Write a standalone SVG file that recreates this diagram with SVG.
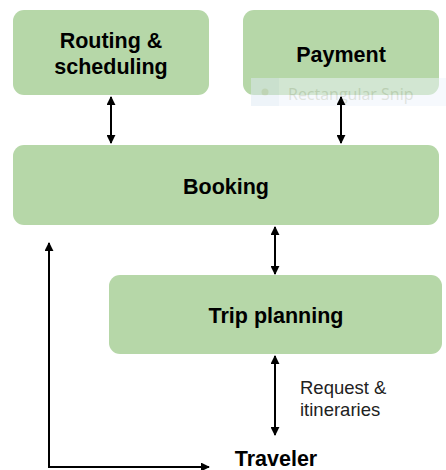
<svg xmlns="http://www.w3.org/2000/svg" width="446" height="470" viewBox="0 0 446 470">
<defs>
<marker id="ah" viewBox="0 0 10 10" refX="9" refY="5" markerWidth="4.5" markerHeight="4.5" orient="auto-start-reverse" markerUnits="strokeWidth">
<path d="M0,0 L10,5 L0,10 Z" fill="#000"/>
</marker>
<style>
.box{fill:#b6d7a8;}
.lbl{font-family:"Liberation Sans",Arial,sans-serif;font-weight:bold;font-size:21.5px;fill:#000;text-anchor:middle;}
.small{font-family:"Liberation Sans",Arial,sans-serif;font-size:18.5px;fill:#222;}
.conn{stroke:#000;stroke-width:2;fill:none;}
</style>
</defs>
<rect width="446" height="470" fill="#fff"/>
<g id="routing">
<rect class="box" x="13" y="10" width="196" height="85" rx="11"/>
<text class="lbl" x="111" y="48">Routing &amp;</text>
<text class="lbl" x="111" y="74">scheduling</text>
</g>
<g id="payment">
<rect class="box" x="243" y="10" width="196" height="85" rx="11"/>
<text class="lbl" x="341" y="62">Payment</text>
</g>
<g id="booking">
<rect class="box" x="13" y="145" width="426" height="80" rx="11"/>
<text class="lbl" x="226" y="194">Booking</text>
</g>
<g id="trip">
<rect class="box" x="109" y="275" width="333" height="79" rx="11"/>
<text class="lbl" x="276" y="323">Trip planning</text>
</g>
<g id="traveler">
<text class="lbl" x="276" y="466" font-size="21">Traveler</text>
</g>
<g id="snip" opacity="0.5">
<rect x="251" y="78" width="195" height="28" fill="#eef5fc"/>
<rect x="251" y="78" width="28" height="28" fill="#dfeaf5"/>
<circle cx="265" cy="92" r="3.5" fill="#c9d3c2"/>
<text x="288" y="100" font-family="'Open Sans','Liberation Sans',sans-serif" font-size="16" fill="#bfc8bd">Rectangular Snip</text>
</g>
<g id="connectors">
<line class="conn" x1="111" y1="97" x2="111" y2="143" marker-start="url(#ah)" marker-end="url(#ah)"/>
<line class="conn" x1="341" y1="97" x2="341" y2="143" marker-start="url(#ah)" marker-end="url(#ah)"/>
<line class="conn" x1="275" y1="227" x2="275" y2="274" marker-start="url(#ah)" marker-end="url(#ah)"/>
<line class="conn" x1="275" y1="356" x2="275" y2="435" marker-start="url(#ah)" marker-end="url(#ah)"/>
<polyline class="conn" points="209,467 49,467 49,243" marker-start="url(#ah)" marker-end="url(#ah)"/>
<text class="small" x="300" y="394">Request &amp;</text>
<text class="small" x="300" y="416">itineraries</text>
</g>
</svg>
